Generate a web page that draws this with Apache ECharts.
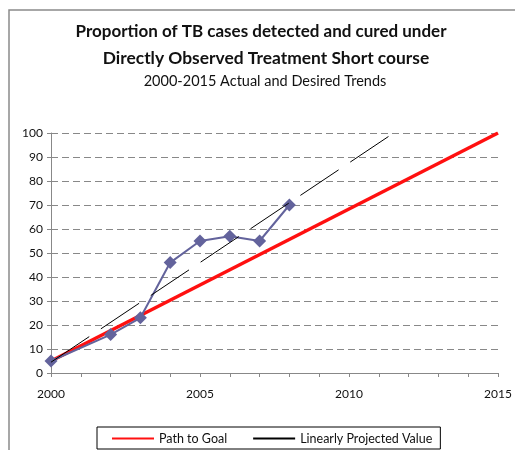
<!DOCTYPE html>
<html><head><meta charset="utf-8">
<script src="https://cdn.jsdelivr.net/npm/echarts@6/dist/echarts.min.js"></script>
<style>html,body{margin:0;padding:0;background:#fff}#c{width:515px;height:450px}</style>
</head><body><div id="c"></div>
<script>
// Data
const years = [2000, 2002, 2003, 2004, 2005, 2006, 2007, 2008];
const actual = [5, 16, 23, 46, 55, 57, 55, 70];
const goalYears = [2000, 2015];
const goalValues = [5, 100];
const projYears = [2000, 2011.5];
const projValues = [4.5, 100];
const xTicks = [2000, 2005, 2010, 2015];
const yTicks = [0, 10, 20, 30, 40, 50, 60, 70, 80, 90, 100];

const zip = (a, b) => a.map((v, i) => [v, b[i]]);
const FONT = 'Lato, "Open Sans", sans-serif';
const chart = echarts.init(document.getElementById('c'), null, {renderer: 'canvas'});
chart.setOption({
  animation: false,
  backgroundColor: '#fff',
  textStyle: {fontFamily: FONT},
  graphic: [
    {type: 'rect', shape: {x: 9, y: 10, width: 520, height: 460}, style: {fill: 'none', stroke: '#8a8a8a', lineWidth: 1.5}, z: -1},
    {type: 'text', x: 261, y: 32, style: {text: 'Proportion of TB cases detected and cured under', font: 'bold 17px ' + FONT, fill: '#111', textAlign: 'center', textVerticalAlign: 'middle'}},
    {type: 'text', x: 266, y: 58, style: {text: 'Directly Observed Treatment Short course', font: 'bold 17.4px ' + FONT, fill: '#111', textAlign: 'center', textVerticalAlign: 'middle'}},
    {type: 'text', x: 265, y: 81, style: {text: '2000-2015 Actual and Desired Trends', font: '14.5px ' + FONT, fill: '#111', textAlign: 'center', textVerticalAlign: 'middle'}}
  ],
  grid: {left: 51, right: 17, top: 133, bottom: 77, containLabel: false},
  legend: {
    data: ['Path to Goal', 'Linearly Projected Value'],
    top: 427, left: 97,
    borderColor: '#000', borderWidth: 1, borderRadius: 0,
    padding: [5, 8, 4, 14],
    itemGap: 25, itemWidth: 42, itemHeight: 10,
    itemStyle: {opacity: 0},
    textStyle: {fontSize: 12.5, color: '#111', fontFamily: FONT}
  },
  xAxis: {
    type: 'value', min: 2000, max: 2015, interval: 5,
    axisLine: {lineStyle: {color: '#888', width: 1}},
    axisTick: {show: true, inside: false, length: 4, lineStyle: {color: '#888'}},
    minorTick: {show: true, splitNumber: 5, length: 4, lineStyle: {color: '#888'}},
    axisLabel: {color: '#111', fontSize: 12, margin: 15, formatter: v => xTicks.includes(v) ? String(v) : ''},
    splitLine: {show: false}
  },
  yAxis: {
    type: 'value', min: 0, max: 100, interval: 10,
    axisLine: {show: true, lineStyle: {color: '#888', width: 1}},
    axisTick: {show: true, length: 4, lineStyle: {color: '#888'}},
    axisLabel: {color: '#111', fontSize: 12, margin: 8, formatter: v => yTicks.includes(v) ? String(v) : ''},
    splitLine: {show: true, lineStyle: {color: '#888', type: [7, 4], width: 1}}
  },
  series: [
    {
      name: 'Path to Goal', type: 'line', data: zip(goalYears, goalValues),
      symbol: 'none', lineStyle: {color: '#ff1010', width: 3.5}, itemStyle: {color: '#ff1010'}, z: 2
    },
    {
      name: 'Linearly Projected Value', type: 'line', data: zip(projYears, projValues),
      symbol: 'none', lineStyle: {color: '#000', width: 1, type: [46, 14]}, itemStyle: {color: '#000'}, z: 4
    },
    {
      name: 'Actual', type: 'line', data: zip(years, actual),
      symbol: 'diamond', symbolSize: 13, showAllSymbol: true,
      lineStyle: {color: '#63639c', width: 2}, itemStyle: {color: '#63639c'}, z: 3
    }
  ]
});
</script></body></html>
